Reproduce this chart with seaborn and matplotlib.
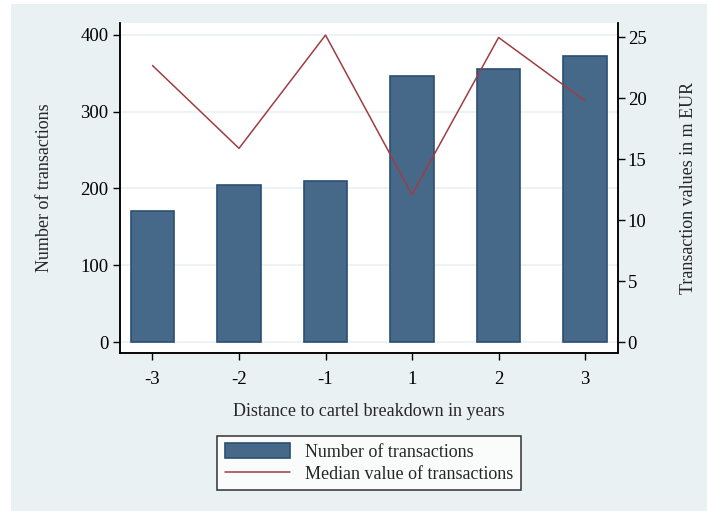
import numpy as np
import pandas as pd
import seaborn as sns
import matplotlib.pyplot as plt
from matplotlib.patches import Rectangle, Patch
from matplotlib.lines import Line2D

# values
years = ["-3", "-2", "-1", "1", "2", "3"]
n_transactions = [171, 205, 210, 347, 356, 372]
median_value = [22.7, 15.9, 25.2, 12.1, 25.0, 19.8]
left_ticks = [0, 100, 200, 300, 400]
right_ticks = [0, 5, 10, 15, 20, 25]

df = pd.DataFrame({"year": years, "n": n_transactions, "median": median_value})
df["pos"] = np.arange(len(df))

bg = "#EAF1F3"
bar_color = "#476989"
bar_edge = "#2B4E72"
line_color = "#9E3D45"

sns.set_theme(style="white")
plt.rcParams["font.family"] = ["Liberation Serif", "DejaVu Serif"]

fig = plt.figure(figsize=(7.07, 5.11), dpi=100)
fig.patch.set_facecolor("white")
# Stata-like light panel behind the graph
fig.patches.append(Rectangle((11 / 707, 0), 1, 1 - 4 / 511, transform=fig.transFigure,
                             facecolor=bg, edgecolor="none", zorder=-10))

ax = fig.add_axes([119.6 / 707, 1 - 353 / 511, (618 - 119.6) / 707, (353 - 23) / 511])
ax.set_facecolor("white")

sns.barplot(data=df, x="year", y="n", order=years, color=bar_color, width=0.5,
            saturation=1, edgecolor=bar_edge, linewidth=1.2, ax=ax, zorder=3)

for t in left_ticks:
    ax.axhline(t, color=bg, lw=1.2, zorder=1)

ax.set_xlim(-0.38, len(years) - 1 + 0.38)
ax.set_ylim(-14.3, 415.6)
ax.set_yticks(left_ticks)
ax.set_xlabel("Distance to cartel breakdown in years", fontsize=13, labelpad=11)
ax.set_ylabel("Number of transactions", fontsize=13, labelpad=20)
ax.tick_params(axis="both", which="both", direction="out", length=5, width=1,
               colors="black", labelsize=13.5, left=True, bottom=True)
ax.tick_params(axis="x", pad=8)
ax.tick_params(axis="y", pad=3)

ax2 = ax.twinx()
sns.lineplot(data=df, x="pos", y="median", color=line_color, lw=1.1, ax=ax2, zorder=4)
ax2.set_ylim(-0.90, 26.19)
ax2.set_yticks(right_ticks)
ax2.set_ylabel("Transaction values in m EUR", fontsize=13, labelpad=24)
ax2.tick_params(axis="y", direction="out", length=5, width=1, colors="black",
                labelsize=13.5, right=True, pad=2)
ax2.set_xlim(-0.38, len(years) - 1 + 0.38)

for a in (ax, ax2):
    a.spines["top"].set_visible(False)
    for s in ("left", "right", "bottom"):
        a.spines[s].set_color("black")
        a.spines[s].set_linewidth(1.1)

handles = [Patch(facecolor=bar_color, edgecolor=bar_edge, linewidth=1.2),
           Line2D([0], [0], color=line_color, lw=1.1)]
labels = ["Number of transactions", "Median value of transactions"]
leg = fig.legend(handles, labels, loc="center", bbox_to_anchor=(369 / 707, 1 - 463 / 511),
                 fontsize=13, frameon=True, fancybox=False, handlelength=3.6,
                 handleheight=0.95, handletextpad=0.85, borderpad=0.4, labelspacing=0.25,
                 borderaxespad=0)
leg.get_frame().set_edgecolor("black")
leg.get_frame().set_linewidth(1.1)
leg.get_frame().set_facecolor("white")

fig.savefig("out.png", dpi=100, facecolor=fig.get_facecolor())
